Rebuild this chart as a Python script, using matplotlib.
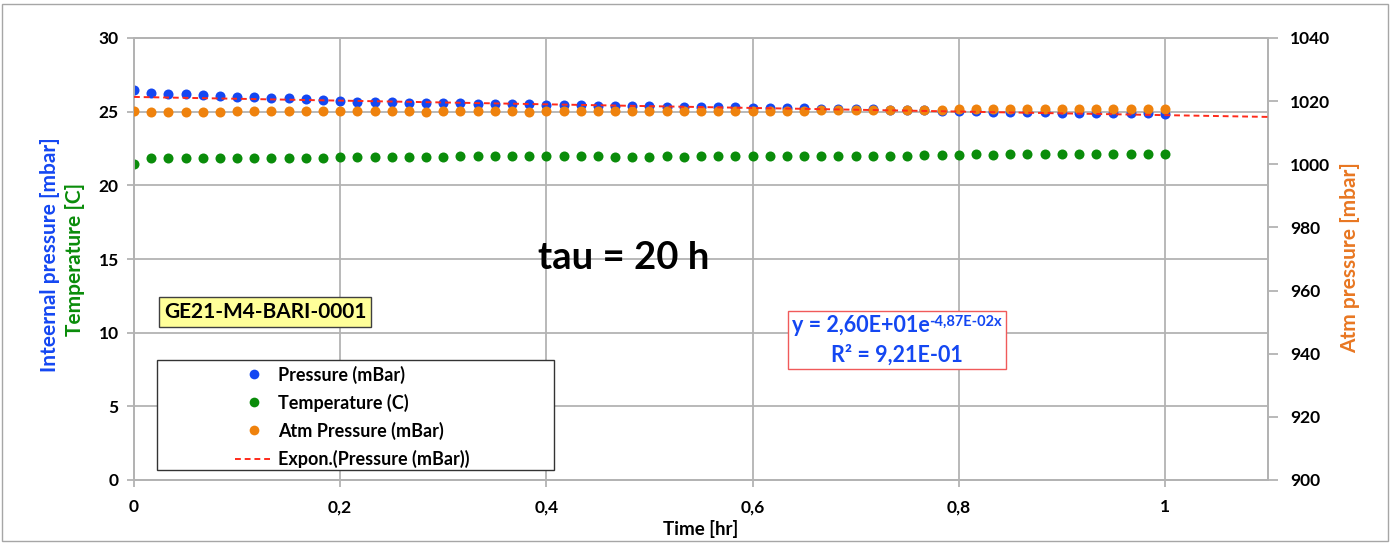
import matplotlib
matplotlib.use("Agg")
import matplotlib.pyplot as plt
import numpy as np
from matplotlib.lines import Line2D
from matplotlib.patches import Rectangle
from matplotlib.offsetbox import TextArea, HPacker, VPacker, AnchoredOffsetbox

plt.rcParams['font.family'] = ['Lato', 'DejaVu Sans']
plt.rcParams['font.weight'] = 'bold'
plt.rcParams['axes.labelweight'] = 'bold'

# ---------------- data ----------------
time_min = [0, 1, 2, 3, 4, 5, 6, 7, 8, 9, 10, 11, 12, 13, 14, 15, 16, 17, 18, 19,
            20, 21, 22, 23, 24, 25, 26, 27, 28, 29, 30, 31, 32, 33, 34, 35, 36, 37, 38, 39,
            40, 41, 42, 43, 44, 45, 46, 47, 48, 49, 50, 51, 52, 53, 54, 55, 56, 57, 58, 59, 60]

pressure = [26.50, 26.27, 26.22, 26.18, 26.13, 26.06, 26.00, 25.97, 25.94, 25.90,
            25.86, 25.82, 25.73, 25.69, 25.66, 25.63, 25.62, 25.60, 25.58, 25.57,
            25.55, 25.53, 25.52, 25.50, 25.47, 25.45, 25.43, 25.41, 25.40, 25.38,
            25.37, 25.35, 25.34, 25.33, 25.31, 25.30, 25.28, 25.26, 25.25, 25.23,
            25.21, 25.19, 25.17, 25.15, 25.13, 25.11, 25.10, 25.07, 25.04, 25.02,
            25.00, 24.99, 24.97, 24.96, 24.94, 24.93, 24.92, 24.91, 24.90, 24.89, 24.87]

temperature = [21.43,
               21.85, 21.86, 21.86, 21.86, 21.87, 21.88, 21.86, 21.86, 21.88, 21.88, 21.88,
               21.95, 21.95, 21.95, 21.95, 21.95, 21.95, 21.95, 21.98,
               21.98, 21.98, 21.98, 21.98, 21.98, 21.98, 21.98, 21.98, 21.95, 21.95,
               21.95, 21.98, 21.95, 21.98, 22.00, 22.00, 22.02, 22.00, 22.00, 22.00,
               22.01, 22.01, 22.01, 22.01, 22.01, 22.01, 22.06, 22.06, 22.06, 22.10,
               22.06, 22.10, 22.10, 22.10, 22.10, 22.10, 22.15, 22.15, 22.15, 22.15, 22.15]

atm_pressure = [1016.8, 1016.7, 1016.7, 1016.6, 1016.7, 1016.7, 1016.8, 1016.8, 1016.8, 1016.9,
                1016.9, 1016.8, 1016.8, 1016.8, 1016.8, 1016.8, 1016.8, 1016.7, 1016.8, 1016.8,
                1016.8, 1016.8, 1016.8, 1016.7, 1016.8, 1016.8, 1016.8, 1016.8, 1016.8, 1016.8,
                1016.8, 1016.8, 1016.9, 1016.9, 1016.9, 1016.9, 1017.0, 1017.0, 1017.0, 1017.0,
                1017.1, 1017.1, 1017.2, 1017.3, 1017.3, 1017.1, 1017.1, 1017.2, 1017.4, 1017.4,
                1017.4, 1017.4, 1017.4, 1017.4, 1017.4, 1017.4, 1017.6, 1017.6, 1017.6, 1017.6, 1017.4]

# exponential trendline y = a * exp(b * x) as shown on the chart
fit_a = 26.0
fit_b = -0.0487

x_ticks = [0, 0.2, 0.4, 0.6, 0.8, 1.0]
x_ticklabels = ["0", "0,2", "0,4", "0,6", "0,8", "1"]
left_ticks = [0, 5, 10, 15, 20, 25, 30]
right_ticks = [900, 920, 940, 960, 980, 1000, 1020, 1040]

# ---------------- style ----------------
BLUE = '#1447F2'
GREEN = '#0A8C0A'
ORANGE = '#EF820D'
RED = '#FF2A1A'
GRID = '#B3B3B3'

W, H = 1392, 545
fig = plt.figure(figsize=(W / 100, H / 100), dpi=100)
ax = fig.add_axes([134 / W, 65 / H, (1268 - 134) / W, 442 / H])
ax2 = ax.twinx()

time_hr = np.array(time_min) / 60.0

ax.set_xlim(0, 1.1)
ax.set_ylim(0, 30)
ax2.set_ylim(900, 1040)

ax.set_xticks(x_ticks)
ax.set_xticklabels(x_ticklabels)
ax.set_yticks(left_ticks)
ax2.set_yticks(right_ticks)

ax.grid(True, color=GRID, lw=1.3)
ax.set_axisbelow(True)
for a in (ax, ax2):
    for s in a.spines.values():
        s.set_color(GRID)
        s.set_linewidth(1.3)
ax.tick_params(axis='both', labelsize=12.5, length=5, width=1.3, color=GRID)
ax.tick_params(axis='x', pad=9)
ax.tick_params(axis='y', pad=6)
ax2.tick_params(axis='y', labelsize=12.5, length=7, width=1.3, color=GRID, pad=9)

ax.scatter(time_hr, pressure, s=52, color=BLUE, linewidths=0, zorder=3)
ax.scatter(time_hr, temperature, s=52, color=GREEN, linewidths=0, zorder=3)
ax2.scatter(time_hr, atm_pressure, s=52, color=ORANGE, linewidths=0, zorder=3)

xfit = np.linspace(0, 1.1, 200)
yfit = fit_a * np.exp(fit_b * xfit)
ax2.plot(xfit, yfit, transform=ax.transData, color=RED, lw=1.4,
         ls=(0, (3, 2)), zorder=4)

ax.set_xlabel("Time [hr]", fontsize=13.5, labelpad=3)

fig.text(50 / W, 1 - 255 / H, "Inteernal pressure [mbar]", rotation=90,
         color=BLUE, fontsize=15, ha='center', va='center')
fig.text(75 / W, 1 - 259 / H, "Temperature [C]", rotation=90,
         color=GREEN, fontsize=15, ha='center', va='center')
fig.text(1350 / W, 1 - 258 / H, "Atm pressure [mbar]", rotation=90,
         color='#E87722', fontsize=15, ha='center', va='center')

fig.text(624 / W, 1 - 258 / H, "tau = 20 h", fontsize=27.5, ha='center',
         va='center', color='black')

fig.text(265 / W, 1 - 312 / H, "GE21-M4-BARI-0001", fontsize=15, ha='center',
         va='center', color='black',
         bbox=dict(boxstyle='square,pad=0.25', fc='#FFFF99', ec='#404040', lw=1))

# legend frame + legend
bx0 = (157 - 134) / (1268 - 134)
by0 = (480 - 470) / 442
bw = (554 - 157) / (1268 - 134)
bh = (470 - 360) / 442
ax2.add_patch(Rectangle((bx0, by0), bw, bh, transform=ax2.transAxes,
                        fc='white', ec='#333333', lw=1, zorder=5))
handles = [
    Line2D([], [], ls='', marker='o', markersize=7, color=BLUE, markeredgewidth=0),
    Line2D([], [], ls='', marker='o', markersize=7, color=GREEN, markeredgewidth=0),
    Line2D([], [], ls='', marker='o', markersize=7, color=ORANGE, markeredgewidth=0),
    Line2D([], [], color=RED, lw=1.4, ls=(0, (3, 2))),
]
labels = ["Pressure (mBar)", "Temperature (C)", "Atm Pressure (mBar)",
          "Expon.(Pressure (mBar))"]
leg = ax2.legend(handles, labels, loc='center',
                 bbox_to_anchor=(bx0 + bw / 2 - 0.003, by0 + bh / 2 - 0.004),
                 bbox_transform=ax2.transAxes, frameon=False, fontsize=13,
                 handlelength=2.1, handletextpad=0.3, labelspacing=0.55)
leg.set_zorder(6)

# equation box
tp = dict(color=BLUE, fontsize=15.5, fontweight='bold')
main = TextArea("y = 2,60E+01e", textprops=tp)
sup = TextArea("-4,87E-02x", textprops=dict(color=BLUE, fontsize=10.5, fontweight='bold'))
line1 = HPacker(children=[main, sup], align="top", pad=0, sep=0)
line2 = TextArea("R² = 9,21E-01", textprops=tp)
vbox = VPacker(children=[line1, line2], align="center", pad=0, sep=6)
anch = AnchoredOffsetbox(loc='center', child=vbox, pad=0.3, borderpad=0,
                         bbox_to_anchor=(897 / W, 1 - 340 / H),
                         bbox_transform=fig.transFigure, frameon=True)
anch.patch.set_edgecolor('#F05A5A')
anch.patch.set_facecolor('white')
anch.patch.set_linewidth(1)
anch.set_zorder(6)
ax2.add_artist(anch)

# outer chart border
fig.patches.append(Rectangle((2 / W, 4 / H), (W - 6) / W, (H - 8) / H,
                             transform=fig.transFigure, fill=False,
                             ec='#A6A6A6', lw=1))

fig.savefig("out.png", dpi=100)
